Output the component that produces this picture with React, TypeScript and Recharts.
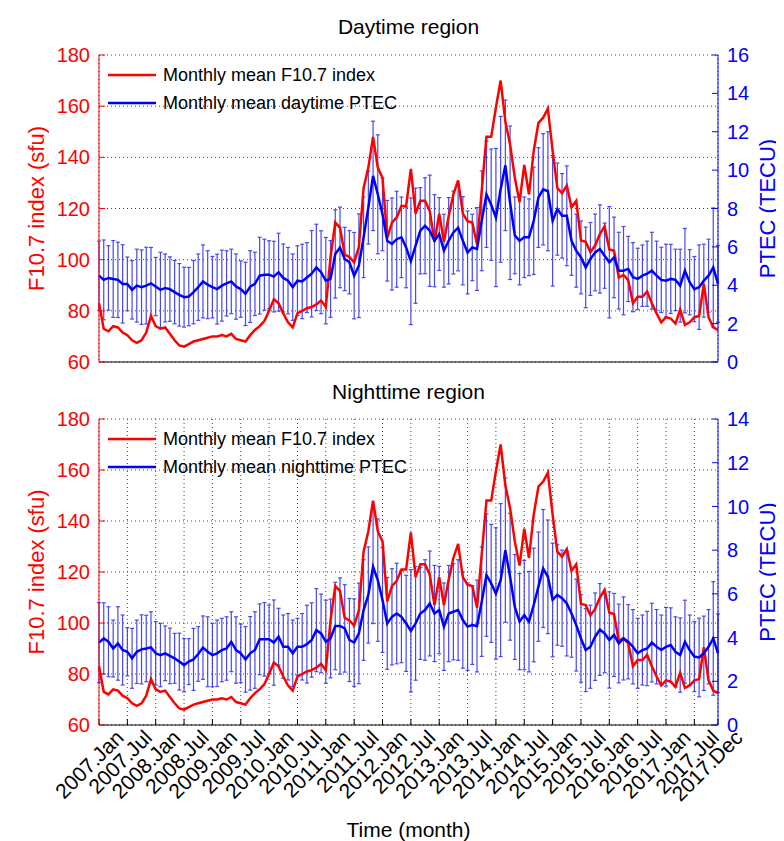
import React from "react";
import { ComposedChart, Line, XAxis, YAxis, CartesianGrid, ErrorBar, Legend } from "recharts";

const RED = "#ff0000";
const BLUE = "#0000ff";
const BAR_BLUE = "#3535f0";

// month index 0 = 2007 Jan ... 131 = 2017 Dec
const tickMonths = [0, 6, 12, 18, 24, 30, 36, 42, 48, 54, 60, 66, 72, 78, 84, 90, 96, 102, 108, 114, 120, 126, 131];
const tickLabels = [
  "2007.Jan", "2007.Jul", "2008.Jan", "2008.Jul", "2009.Jan", "2009.Jul", "2010.Jan", "2010.Jul",
  "2011.Jan", "2011.Jul", "2012.Jan", "2012.Jul", "2013.Jan", "2013.Jul", "2014.Jan", "2014.Jul",
  "2015.Jan", "2015.Jul", "2016.Jan", "2016.Jul", "2017.Jan", "2017.Jul", "2017.Dec",
];
const f107Ticks = [60, 80, 100, 120, 140, 160, 180];
const dayTecTicks = [0, 2, 4, 6, 8, 10, 12, 14, 16];
const nightTecTicks = [0, 2, 4, 6, 8, 10, 12, 14];

const f107 = [
  83, 73, 72, 74, 73.5, 71.5, 70.5, 68.5, 67.5, 68.5, 71.5, 78,
  74, 73, 73.5, 71, 68.5, 66.5, 66, 67, 68, 68.5, 69, 69.5,
  70, 70, 70.5, 70, 71, 69, 68.5, 68, 70.5, 72.5, 74, 76,
  80, 84.5, 83, 79, 75.5, 73.5, 79, 80, 81, 81.5, 82.5, 84,
  81.5, 101, 114.5, 112.5, 102, 101, 99, 105, 128, 136, 148, 136,
  132, 108.5, 114.5, 116.5, 121, 121, 135.5, 118, 123, 123, 119, 107,
  118, 107, 117, 125.5, 131, 118, 115, 114.5, 106, 127, 148, 148,
  159.5, 170, 154, 145, 132, 122.5, 137, 125.5, 142.5, 153.5, 155.5, 159,
  142.5, 128, 126, 129, 120.5, 123, 107.5, 107, 103, 105.5, 110, 113,
  104, 103.5, 93, 94, 92, 83, 85.5, 85.5, 87.5, 83, 79, 75.5,
  77.5, 77, 75, 80.5, 74.5, 75.5, 77.5, 78, 90.5, 77.5, 73.5, 72.5,
];

const dayPtec = [
  4.5, 4.28, 4.38, 4.33, 4.28, 4.07, 4.07, 3.76, 3.98, 3.9, 3.98, 4.1,
  3.93, 3.76, 3.86, 3.8, 3.64, 3.5, 3.38, 3.41, 3.64, 3.9, 4.2, 4.03,
  3.9, 3.8, 3.98, 4.1, 4.2, 3.93, 3.8, 3.55, 3.93, 4.07, 4.5, 4.55,
  4.55, 4.45, 4.68, 4.38, 4.24, 3.9, 4.24, 4.2, 4.4, 4.6, 4.93, 4.68,
  4.24, 4.33, 5.63, 5.97, 5.37, 5.2, 4.5, 5.02, 6.5, 8.05, 9.7, 8.74,
  7.7, 6.32, 6.15, 6.4, 6.5, 5.97, 5.25, 6.06, 6.84, 7.1, 6.84, 6.32,
  6.67, 5.8, 6.32, 6.75, 7.0, 6.32, 5.71, 5.97, 5.89, 7.36, 8.74, 8.2,
  7.53, 9.0, 10.25, 8.3, 6.6, 6.32, 6.5, 6.5, 7.36, 8.57, 9.0, 8.9,
  7.36, 7.97, 7.62, 7.62, 6.32, 5.8, 5.45, 4.93, 5.37, 5.71, 5.89, 5.54,
  5.2, 5.45, 4.76, 4.76, 4.85, 4.42, 4.33, 4.5, 4.6, 4.76, 4.5, 4.28,
  4.24, 4.33, 4.28, 3.98, 4.76, 4.16, 3.8, 3.9, 4.24, 4.5, 4.93, 4.07,
];

const dayStd = [
  1.8, 2.08, 1.68, 2.0, 1.96, 2.04, 1.4, 1.52, 1.9, 1.94, 2.0, 1.87,
  1.52, 1.96, 1.77, 1.68, 1.65, 1.63, 1.56, 1.52, 1.65, 1.73, 1.9, 1.77,
  1.6, 1.82, 1.85, 1.7, 1.68, 1.7, 1.47, 1.65, 1.87, 1.65, 2.0, 1.85,
  1.77, 1.84, 2.03, 1.77, 1.73, 1.73, 1.82, 1.94, 1.82, 2.25, 2.25, 2.16,
  2.25, 2.0, 2.3, 2.1, 1.65, 1.65, 2.25, 2.7, 2.1, 1.9, 2.85, 3.1,
  1.9, 2.1, 2.4, 2.5, 2.1, 2.1, 3.3, 3.0, 2.25, 2.5, 2.9, 2.4,
  1.9, 1.9, 2.25, 2.16, 2.25, 2.3, 2.16, 1.73, 2.16, 2.6, 2.77, 2.9,
  3.6, 3.8, 3.4, 4.0, 2.0, 2.3, 2.1, 2.0, 2.8, 2.6, 2.9, 3.1,
  3.4, 2.4, 2.2, 2.6, 1.8, 1.9, 1.9, 2.1, 1.9, 2.0, 2.3, 1.7,
  2.9, 2.1, 2.0, 2.3, 1.7, 1.8, 1.6, 1.6, 1.7, 2.0, 1.8, 1.7,
  1.9, 1.8, 1.6, 1.9, 2.2, 1.7, 1.7, 2.2, 1.9, 1.9, 3.1, 2.0,
];

const nightPtec = [
  3.77, 3.96, 3.81, 3.5, 3.73, 3.43, 3.35, 3.05, 3.35, 3.46, 3.5, 3.55,
  3.28, 3.2, 3.28, 3.16, 3.05, 2.9, 2.74, 2.9, 3.0, 3.25, 3.54, 3.35,
  3.2, 3.28, 3.43, 3.5, 3.81, 3.43, 3.28, 3.0, 3.28, 3.43, 3.92, 3.92,
  3.92, 3.77, 4.04, 3.58, 3.58, 3.28, 3.58, 3.58, 3.7, 3.89, 4.34, 4.19,
  3.81, 3.96, 4.53, 4.53, 4.42, 3.89, 3.77, 4.19, 5.26, 5.95, 7.24, 6.63,
  5.72, 4.65, 4.95, 5.1, 4.95, 4.65, 4.31, 4.65, 5.1, 5.26, 5.56, 5.1,
  5.26, 4.5, 5.1, 5.18, 5.26, 4.8, 4.5, 4.57, 4.53, 5.64, 6.86, 6.48,
  6.02, 6.63, 8.0, 6.78, 5.4, 4.73, 5.03, 4.73, 5.49, 6.33, 7.16, 6.78,
  5.72, 5.95, 5.8, 5.56, 5.1, 4.57, 3.96, 3.43, 3.58, 4.04, 4.37, 4.19,
  3.89, 4.12, 3.73, 3.96, 3.81, 3.58, 3.28, 3.43, 3.5, 3.77, 3.58, 3.43,
  3.58, 3.66, 3.35, 3.2, 3.81, 3.43, 3.13, 3.09, 3.28, 3.58, 3.96, 3.28,
];

const nightStd = [
  1.83, 1.63, 1.6, 1.3, 1.68, 1.6, 1.1, 1.37, 1.45, 1.58, 1.52, 1.63,
  1.45, 1.45, 1.25, 1.27, 1.14, 1.3, 1.22, 1.05, 1.42, 1.25, 1.45, 1.6,
  1.45, 1.52, 1.45, 1.45, 1.37, 1.52, 1.34, 1.5, 1.68, 1.75, 1.62, 1.68,
  1.57, 1.95, 1.3, 1.45, 1.52, 1.52, 1.3, 1.52, 1.78, 1.7, 1.9, 1.8,
  1.9, 1.8, 2.0, 2.2, 2.0, 1.9, 2.0, 2.3, 2.3, 2.2, 2.6, 2.8,
  2.4, 2.1, 2.2, 2.3, 2.1, 2.2, 2.8, 2.6, 2.1, 2.3, 2.4, 2.2,
  2.0, 2.0, 2.2, 2.2, 2.3, 2.2, 2.0, 1.8, 2.1, 2.5, 2.8, 2.7,
  3.0, 3.5, 3.3, 2.9, 2.4, 2.2, 2.5, 2.3, 2.6, 2.5, 2.7, 2.6,
  2.6, 2.3, 2.2, 2.4, 2.0, 2.1, 2.0, 1.9, 1.9, 2.0, 2.1, 1.8,
  2.2, 1.9, 1.8, 1.9, 1.7, 1.7, 1.6, 1.6, 1.7, 1.8, 1.7, 1.6,
  1.8, 1.7, 1.6, 1.7, 1.9, 1.6, 1.6, 1.8, 1.7, 1.7, 2.6, 1.8,
];

const rows = f107.map((f, i) => ({
  m: i,
  f107: f,
  day: dayPtec[i],
  dayErr: dayStd[i],
  night: nightPtec[i],
  nightErr: nightStd[i],
}));

const AxisTitle = (props: any) => {
  const { viewBox, value, fill, dx } = props;
  const cx = viewBox.x + dx;
  const cy = viewBox.y + viewBox.height / 2;
  return (
    <text x={cx} y={cy} transform={`rotate(-90 ${cx} ${cy})`} textAnchor="middle" dominantBaseline="central" fill={fill} fontSize={22}>
      {value}
    </text>
  );
};

const MonthTick = (props: any) => {
  const { x, y, payload } = props;
  const label = tickLabels[tickMonths.indexOf(payload.value)];
  const tx = x + 26;
  const ty = y + 14;
  return (
    <text x={tx} y={ty} transform={`rotate(-45 ${tx} ${ty})`} textAnchor="end" fontSize={21} fill="#000">
      {label}
    </text>
  );
};

function LegendBox({ items }: { items: { label: string; color: string }[] }) {
  return (
    <div style={{ fontSize: 18, color: "#000", whiteSpace: "nowrap" }}>
      {items.map((it) => (
        <div key={it.label} style={{ display: "flex", alignItems: "center", height: 28 }}>
          <svg width={48} height={6} style={{ marginRight: 7 }}>
            <line x1={0} y1={3} x2={48} y2={3} stroke={it.color} strokeWidth={2.5} />
          </svg>
          <span>{it.label}</span>
        </div>
      ))}
    </div>
  );
}

interface PanelProps {
  tecKey: string;
  errKey: string;
  tecMax: number;
  tecTicks: number[];
  height: number;
  top: number;
  axisHeight: number;
  showLabels: boolean;
  tecLabel: string;
}

function Panel({ tecKey, errKey, tecMax, tecTicks, height, top, axisHeight, showLabels, tecLabel }: PanelProps) {
  const legendItems = [
    { label: "Monthly mean F10.7 index", color: RED },
    { label: tecLabel, color: BLUE },
  ];
  return (
    <ComposedChart width={776} height={height} data={rows} margin={{ top, right: 0, left: 0, bottom: 0 }}>
      <CartesianGrid xAxisId="bottom" yAxisId="left" stroke="#444" strokeDasharray="1 3" />
      <XAxis
        xAxisId="bottom"
        type="number"
        dataKey="m"
        domain={[0, 131]}
        ticks={tickMonths}
        interval={0}
        height={axisHeight}
        stroke="#000"
        tickSize={-6}
        tickMargin={6}
        tick={showLabels ? <MonthTick /> : false}
        label={showLabels ? { value: "Time (month)", position: "insideBottom", offset: 4, fontSize: 21, fill: "#000" } : undefined}
      />
      <XAxis
        xAxisId="top"
        orientation="top"
        type="number"
        dataKey="m"
        domain={[0, 131]}
        ticks={tickMonths}
        interval={0}
        height={0}
        stroke="#000"
        tickSize={-6}
        tick={false}
      />
      <YAxis
        yAxisId="left"
        domain={[60, 180]}
        ticks={f107Ticks}
        interval={0}
        width={91}
        stroke={RED}
        tickSize={-6}
        tickMargin={15}
        tick={{ fill: RED, fontSize: 20 }}
        allowDataOverflow
        label={<AxisTitle value="F10.7 index (sfu)" fill={RED} dx={28} />}
      />
      <YAxis
        yAxisId="right"
        orientation="right"
        domain={[0, tecMax]}
        ticks={tecTicks}
        interval={0}
        width={66}
        stroke={BLUE}
        tickSize={-6}
        tickMargin={15}
        tick={{ fill: BLUE, fontSize: 20 }}
        allowDataOverflow
        label={<AxisTitle value="PTEC (TECU)" fill={BLUE} dx={49} />}
      />
      <Legend
        layout="vertical"
        align="center"
        verticalAlign="middle"
        wrapperStyle={{ top: top + 6, left: 100, width: "auto" }}
        content={() => <LegendBox items={legendItems} />}
      />
      <Line xAxisId="bottom" yAxisId="right" dataKey={tecKey} stroke="none" dot={false} isAnimationActive={false} legendType="none">
        <ErrorBar dataKey={errKey} width={2} stroke={BAR_BLUE} strokeWidth={1.2} opacity={0.9} direction="y" />
      </Line>
      <Line xAxisId="bottom" yAxisId="left" type="linear" dataKey="f107" stroke={RED} strokeWidth={2.5} dot={false} isAnimationActive={false} />
      <Line xAxisId="bottom" yAxisId="right" type="linear" dataKey={tecKey} stroke={BLUE} strokeWidth={2.5} dot={false} isAnimationActive={false} />
    </ComposedChart>
  );
}

const titleStyle: React.CSSProperties = {
  position: "absolute",
  left: 91,
  width: 619,
  height: 22,
  lineHeight: "22px",
  fontSize: 21,
  textAlign: "center",
  color: "#000",
};

export default function App() {
  return (
    <div style={{ position: "relative", width: 776, height: 833, fontFamily: "'Liberation Sans', Arial, sans-serif", background: "#fff" }}>
      <div style={{ position: "absolute", top: 0, left: 0 }}>
        <Panel
          tecKey="day"
          errKey="dayErr"
          tecMax={16}
          tecTicks={dayTecTicks}
          height={364}
          top={47}
          axisHeight={10}
          showLabels={false}
          tecLabel="Monthly mean daytime PTEC"
        />
      </div>
      <div style={{ position: "absolute", top: 372, left: 0 }}>
        <Panel
          tecKey="night"
          errKey="nightErr"
          tecMax={14}
          tecTicks={nightTecTicks}
          height={461}
          top={39}
          axisHeight={116}
          showLabels={true}
          tecLabel="Monthly mean nighttime PTEC"
        />
      </div>
      <div style={{ ...titleStyle, top: 8 }}>Daytime region</div>
      <div style={{ ...titleStyle, top: 373 }}>Nighttime region</div>
    </div>
  );
}
